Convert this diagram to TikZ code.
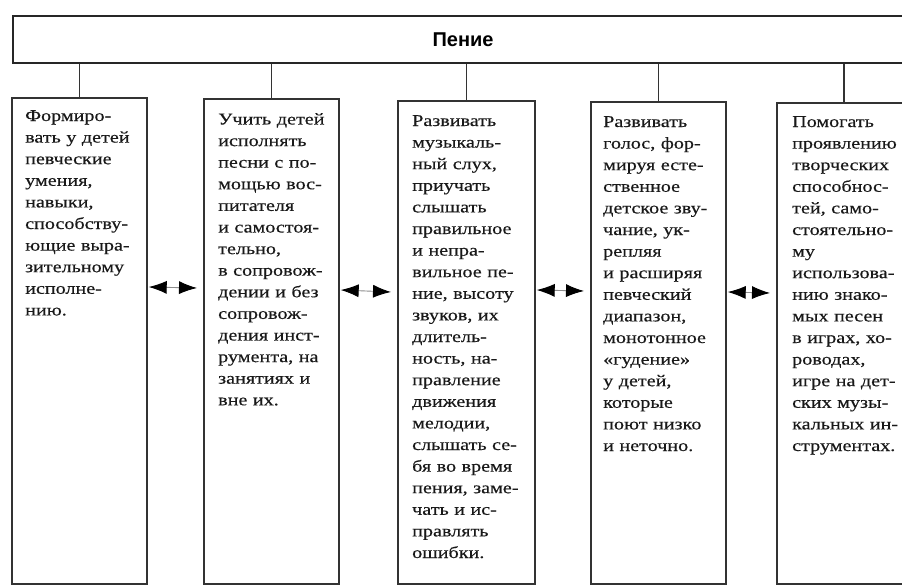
\documentclass[tikz,border=0pt]{standalone}
\usepackage{fontspec}
\setmainfont{Liberation Serif}
\newfontfamily\boxfont[FakeStretch=1.22,FakeBold=0.4]{Liberation Serif}
\newfontfamily\headfont{Liberation Sans}
\usetikzlibrary{arrows.meta,positioning}

\tikzset{
  headbox/.style={draw=black!85, line width=2.8pt, minimum width=900pt,
    minimum height=47pt, inner sep=0pt},
  aimbox/.style={draw=black!80, line width=1.7pt, minimum width=135pt,
    inner sep=0pt, anchor=north west},
  aimtext/.style={anchor=north west, align=left, text width=125pt, inner sep=0pt,
    text=black!90, font=\boxfont\fontsize{16.5pt}{21.6pt}\selectfont,
    execute at begin node={\setlength{\baselineskip}{21.6pt}}},
  stem/.style={draw=black!80, line width=1.6pt},
  tip/.style={arrows={Latex[length=18pt,width=13pt,fill=black,color=black]-Latex[length=18pt,width=13pt,fill=black,color=black]}},
  link/.style={draw=black!45, line width=0.9pt, tip}
}

\begin{document}
\begin{tikzpicture}[x=1pt,y=-1pt]
    \useasboundingbox (0,0) rectangle (902,585);
    \clip (0,0) rectangle (902,585);

    % title
    \node[headbox] (head) at (463,39.5) {\headfont\bfseries\fontsize{20pt}{24pt}\selectfont Пение};

    % the five tasks
    \node[aimbox, minimum height=486pt] (b1) at (11,97) {};
    \node[aimbox, minimum height=485pt] (b2) at (203,98) {};
    \node[aimbox, minimum height=483pt, minimum width=137pt] (b3) at (397,100) {};
    \node[aimbox, minimum height=482pt] (b4) at (590,101) {};
    \node[aimbox, minimum height=481pt, minimum width=134pt] (b5) at (776,102) {};

    \node[aimtext] (t1) at ([xshift=14pt,yshift=-13pt]b1.north west) {Формиро-\\вать у детей\\певческие\\умения,\\навыки,\\способству-\\ющие выра-\\зительному\\исполне-\\нию.};
    \node[aimtext] (t2) at ([xshift=15pt,yshift=-15pt]b2.north west) {Учить детей\\исполнять\\песни с по-\\мощью вос-\\питателя\\и самостоя-\\тельно,\\в сопровож-\\дении и без\\сопровож-\\дения инст-\\румента, на\\занятиях и\\вне их.};
    \node[aimtext] (t3) at ([xshift=15pt,yshift=-15pt]b3.north west) {Развивать\\музыкаль-\\ный слух,\\приучать\\слышать\\правильное\\и непра-\\вильное пе-\\ние, высоту\\звуков, их\\длитель-\\ность, на-\\правление\\движения\\мелодии,\\слышать се-\\бя во время\\пения, заме-\\чать и ис-\\правлять\\ошибки.};
    \node[aimtext] (t4) at ([xshift=13pt,yshift=-15pt]b4.north west) {Развивать\\голос, фор-\\мируя есте-\\ственное\\детское зву-\\чание, ук-\\репляя\\и расширяя\\певческий\\диапазон,\\монотонное\\«гудение»\\у детей,\\которые\\поют низко\\и неточно.};
    \node[aimtext] (t5) at ([xshift=16pt,yshift=-14pt]b5.north west) {Помогать\\проявлению\\творческих\\способнос-\\тей, само-\\стоятельно-\\му\\использова-\\нию знако-\\мых песен\\в играх, хо-\\роводах,\\игре на дет-\\ских музы-\\кальных ин-\\струментах.};

    % stems from the title
    \foreach \b in {b1,b2,b3,b4,b5}
        \draw[stem] (\b.north) -- (\b.north |- head.south);

    % links between neighbours
    \draw[link] ([xshift=1pt,yshift=-190pt]b1.north east) -- ([xshift=-6pt,yshift=-190pt]b2.north west);
    \draw[link] ([xshift=1pt,yshift=-192pt]b2.north east) -- ([xshift=-6pt,yshift=-192pt]b3.north west);
    \draw[link] ([xshift=1pt,yshift=-190pt]b3.north east) -- ([xshift=-6pt,yshift=-190pt]b4.north west);
    \draw[link] ([xshift=1pt,yshift=-191pt]b4.north east) -- ([xshift=-6pt,yshift=-191pt]b5.north west);
\end{tikzpicture}
\end{document}
